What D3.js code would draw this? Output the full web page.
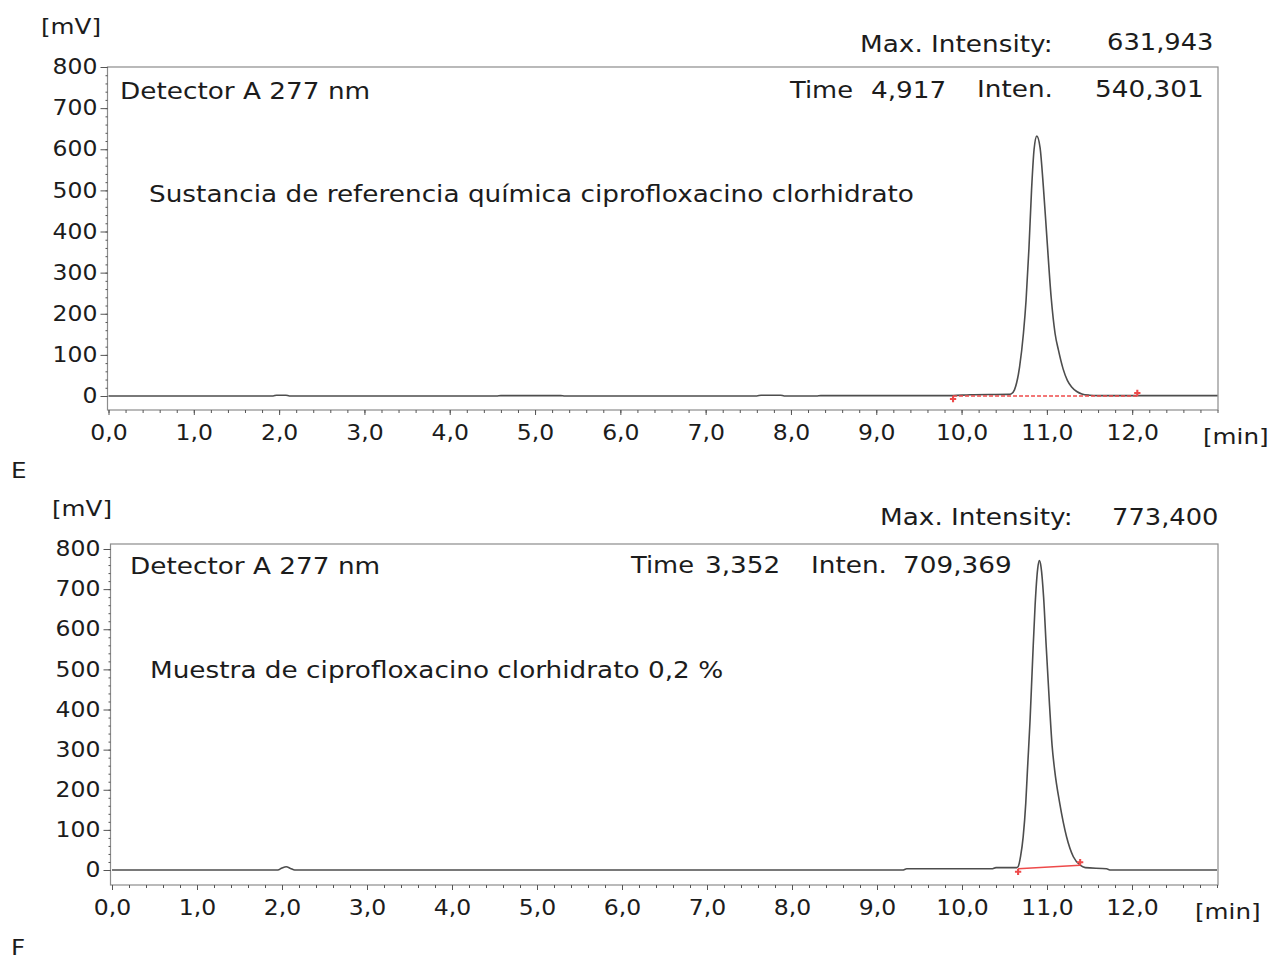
<!DOCTYPE html>
<html>
<head>
<meta charset="utf-8">
<script src="https://cdn.jsdelivr.net/npm/d3@7"></script>
<style>
body { margin: 0; background: #fff; }
svg text { font-family: "DejaVu Sans", Verdana, sans-serif; fill: #1c1c1c; }
</style>
</head>
<body>
<div id="chart-area"></div>
<script>

// axis values
var timeTicks = [0, 1, 2, 3, 4, 5, 6, 7, 8, 9, 10, 11, 12];
var mvTicks = [0, 100, 200, 300, 400, 500, 600, 700, 800];

// chromatogram E (reference substance), [min, mV]
var traceE = [
  [0, 0], [1.93, 0], [1.97, 2], [2.08, 2], [2.12, 0], [4.55, 0], [4.6, 1], [5.3, 1], [5.35, 0],
  [7.6, 0], [7.65, 2], [7.88, 2], [7.92, 0], [8.3, 0], [8.35, 1], [9.9, 1], [10.1, 3], [10.55, 4],
  [10.58, 5], [10.62, 15], [10.68, 71], [10.725, 152], [10.756, 233], [10.79, 360], [10.82, 500],
  [10.85, 600], [10.882, 632], [10.92, 604], [10.96, 505], [11.0, 385], [11.05, 240], [11.096, 152],
  [11.135, 112], [11.19, 66], [11.24, 38], [11.29, 22], [11.35, 11], [11.41, 5], [11.5, 2], [11.6, 1], [13, 1]
];
var baseE = [[9.9, 0], [12.06, 0]];

// chromatogram F (sample 0,2 %)
var traceF = [
  [0, 0], [1.95, 0], [2.0, 5], [2.05, 8], [2.1, 4], [2.15, 0], [9.3, 0], [9.35, 3], [10.35, 3],
  [10.4, 6], [10.6, 6], [10.64, 6], [10.66, 8], [10.69, 35], [10.72, 83], [10.75, 166], [10.77, 249],
  [10.8, 370], [10.83, 520], [10.86, 660], [10.89, 750], [10.91, 771], [10.93, 755], [10.96, 680],
  [10.99, 560], [11.03, 410], [11.06, 310], [11.09, 249], [11.15, 166], [11.23, 83], [11.31, 33],
  [11.39, 12], [11.45, 6], [11.7, 3], [11.75, 0], [13, 0]
];
var baseF = [[10.66, 3], [11.39, 12]];

var infoE = ["Max. Intensity:", "631,943", "Time", "4,917", "Inten.", "540,301",
  "Sustancia de referencia química ciprofloxacino clorhidrato"];
var infoF = ["Max. Intensity:", "773,400", "Time", "3,352", "Inten.", "709,369",
  "Muestra de ciprofloxacino clorhidrato 0,2 %"];

var panels = [
  {tag: "E", trace: traceE, base: baseE, info: infoE, dashed: true,
   box: {left: 107.5, right: 1218, top: 67, bottom: 410}, xr: [108.5, 1217.5], yr: [396, 67],
   pos: {mv: [41, 34], maxL: [860, 52], maxV: [1107, 50], time: [790, 98], timeV: [871, 98],
         inten: [977, 97], intenV: [1095, 97], det: [120, 99], title: [149, 202], min: [1203, 444], tag: [11, 478]}},
  {tag: "F", trace: traceF, base: baseF, info: infoF, dashed: false,
   box: {left: 110.5, right: 1218, top: 544, bottom: 885}, xr: [112, 1217], yr: [870, 549],
   pos: {mv: [52, 516], maxL: [880, 525], maxV: [1112, 525], time: [631, 573], timeV: [705, 573],
         inten: [811, 573], intenV: [903, 573], det: [130, 574], title: [150, 678], min: [1195, 919], tag: [11, 955]}}
];

var svg = d3.select("#chart-area")
  .append("svg")
    .attr("width", 1271)
    .attr("height", 961);

var fmtTime = function(d) { return d3.format(".1f")(d).replace(".", ","); };

function label(g, p, txt, size) {
  return g.append("text")
    .attr("transform", "translate(" + p[0] + "," + p[1] + ") scale(1.12,1)")
    .style("font-size", size + "px")
    .text(txt);
}

panels.forEach(function(p) {
  var g = svg.append("g");
  var xScale = d3.scaleLinear().domain([0, 13]).range(p.xr);
  var yScale = d3.scaleLinear().domain([0, 800]).range(p.yr);

  // frame
  g.append("rect")
    .attr("x", p.box.left).attr("y", p.box.top)
    .attr("width", p.box.right - p.box.left)
    .attr("height", p.box.bottom - p.box.top)
    .attr("fill", "none")
    .attr("stroke", "#8c8c8c")
    .attr("stroke-width", 1.2);

  // y axis
  var yAxisEl = g.append("g").attr("transform", "translate(" + p.box.left + ",0)")
    .call(d3.axisLeft(yScale).tickValues(mvTicks).tickSize(7).tickPadding(2));
  var yMinor = g.append("g").attr("transform", "translate(" + p.box.left + ",0)")
    .call(d3.axisLeft(yScale).tickValues(yScale.ticks(40)).tickSize(2).tickFormat(""));

  // x axis
  var xAxisEl = g.append("g").attr("transform", "translate(0," + p.box.bottom + ")")
    .call(d3.axisBottom(xScale).tickValues(timeTicks).tickSize(5).tickPadding(10).tickFormat(fmtTime));
  var xMinor = g.append("g").attr("transform", "translate(0," + p.box.bottom + ")")
    .call(d3.axisBottom(xScale).tickValues(xScale.ticks(65)).tickSize(3).tickFormat(""));

  [yAxisEl, yMinor, xAxisEl, xMinor].forEach(function(a) {
    a.select(".domain").remove();
    a.selectAll("line").attr("stroke", "#555");
    a.selectAll("text")
      .attr("fill", "#1c1c1c")
      .style("font-size", "21px")
      .style("font-family", "'DejaVu Sans', Verdana, sans-serif")
      .attr("transform", "scale(1.12,1)");
  });

  // trace
  var line = d3.line()
    .x(function(d) { return xScale(d[0]); })
    .y(function(d) { return yScale(d[1]); })
    .curve(d3.curveMonotoneX);

  g.append("path")
    .datum(p.trace)
    .attr("d", line)
    .attr("fill", "none")
    .attr("stroke", "#4d4d4d")
    .attr("stroke-width", 1.6);

  // integration baseline
  g.append("path")
    .datum(p.base)
    .attr("d", d3.line().x(function(d) { return xScale(d[0]); }).y(function(d) { return yScale(d[1]); }))
    .attr("fill", "none")
    .attr("stroke", "#ee4a4a")
    .attr("stroke-width", 1.4)
    .attr("stroke-dasharray", p.dashed ? "4,2" : null);

  g.selectAll(".mark")
    .data(p.base)
    .enter().append("path")
      .attr("class", "mark")
      .attr("transform", function(d, i) {
        return "translate(" + xScale(d[0]) + "," + (yScale(d[1]) + (i === 0 ? 3 : -3)) + ")";
      })
      .attr("d", d3.symbol().type(d3.symbolCross).size(22))
      .attr("fill", "#ee4a4a");

  // texts
  label(g, p.pos.mv, "[mV]", 22);
  label(g, p.pos.maxL, p.info[0], 23.5);
  label(g, p.pos.maxV, p.info[1], 23);
  label(g, p.pos.time, p.info[2], 23);
  label(g, p.pos.timeV, p.info[3], 23.5);
  label(g, p.pos.inten, p.info[4], 23.5);
  label(g, p.pos.intenV, p.info[5], 23.5);
  label(g, p.pos.det, "Detector A 277 nm", 23.5);
  label(g, p.pos.title, p.info[6], 23.5);
  label(g, p.pos.min, "[min]", 22);
  label(g, p.pos.tag, p.tag, 22);
});

</script>
</body>
</html>
